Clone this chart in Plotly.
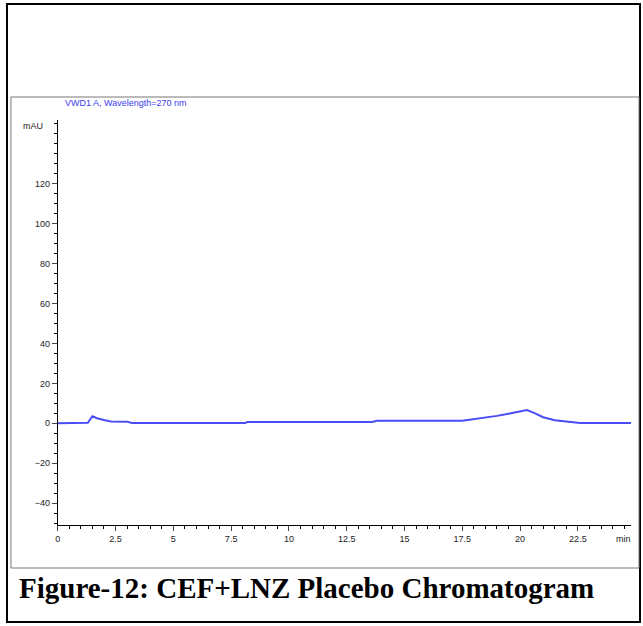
import plotly.graph_objects as go

# retention time (min) and signal (mAU)
time_min = [0, 1.3, 1.5, 1.7, 2.0, 2.3, 3.0, 3.2, 8.1, 8.2, 13.6, 13.8, 17.5, 18.0, 18.5,
            19.0, 19.5, 20.0, 20.3, 20.6, 21.0, 21.5, 22.0, 22.6, 24.8]
signal_mau = [0, 0.2, 3.5, 2.5, 1.6, 0.9, 0.8, 0.1, 0.1, 0.6, 0.6, 1.2, 1.3, 2.0, 2.7,
              3.7, 4.8, 6.0, 6.6, 5.2, 3.0, 1.5, 0.8, 0.1, 0.1]

x_ticks = [0, 2.5, 5, 7.5, 10, 12.5, 15, 17.5, 20, 22.5]
x_labels = ["0", "2.5", "5", "7.5", "10", "12.5", "15", "17.5", "20", "22.5"]
y_ticks = [-40, -20, 0, 20, 40, 60, 80, 100, 120]

W, H = 643, 626
def px(x): return x / W
def py(y): return 1 - y / H

fig = go.Figure(go.Scatter(x=time_min, y=signal_mau, mode="lines",
                           line=dict(color="#4a4cf5", width=2), showlegend=False))

tickfont = dict(family="Liberation Sans", size=9, color="#222")
fig.update_layout(
    width=W, height=H, margin=dict(l=0, r=0, t=0, b=0),
    paper_bgcolor="white", plot_bgcolor="white",
    xaxis=dict(domain=[px(55), px(631)], range=[0, 24.8], tickvals=x_ticks, ticktext=x_labels,
               showgrid=False, zeroline=False, showline=True, linecolor="black", linewidth=1,
               ticks="outside", ticklen=5, tickfont=tickfont,
               minor=dict(dtick=0.5, ticks="outside", ticklen=3, tickcolor="black")),
    yaxis=dict(domain=[py(525), py(120)], range=[-51, 152], tickvals=y_ticks,
               showgrid=False, zeroline=False, showline=True, linecolor="black", linewidth=1,
               ticks="outside", ticklen=5, tickfont=tickfont,
               minor=dict(dtick=5, ticks="outside", ticklen=3, tickcolor="black")),
    shapes=[
        dict(type="rect", xref="paper", yref="paper", x0=px(4), x1=px(640), y0=py(622), y1=py(4),
             line=dict(color="black", width=2)),
        dict(type="rect", xref="paper", yref="paper", x0=px(8), x1=px(639), y0=py(568), y1=py(97),
             line=dict(color="#777", width=1)),
    ],
    annotations=[
        dict(text="VWD1 A, Wavelength=270 nm", xref="paper", yref="paper", x=px(60), y=py(103),
             xanchor="left", yanchor="middle", showarrow=False,
             font=dict(family="Liberation Sans", size=9, color="#3a3cf0")),
        dict(text="mAU", xref="paper", yref="paper", x=px(42), y=py(126),
             xanchor="right", yanchor="middle", showarrow=False, font=tickfont),
        dict(text="min", xref="paper", yref="paper", x=px(633), y=py(539),
             xanchor="right", yanchor="middle", showarrow=False, font=tickfont),
        dict(text="<b>Figure-12: CEF+LNZ Placebo Chromatogram</b>", xref="paper", yref="paper",
             x=px(14), y=py(588), xanchor="left", yanchor="middle", showarrow=False,
             font=dict(family="Liberation Serif", size=29, color="black")),
    ],
)

fig.write_html("out.html", config={"displayModeBar": False},
               post_script="document.body.style.margin='0';")
